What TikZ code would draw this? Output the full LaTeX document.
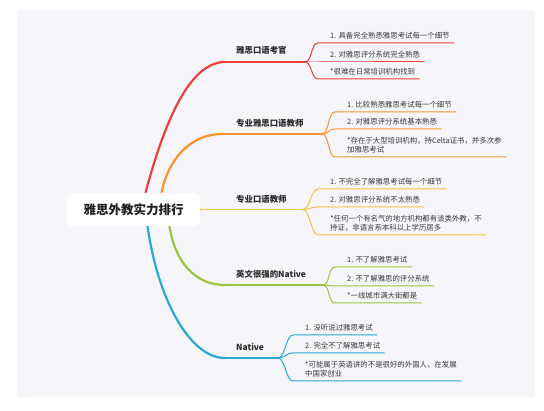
\documentclass[tikz,border=0pt]{standalone}
\usepackage{fontspec}
\setmainfont{Noto Sans CJK SC}
\definecolor{bgc}{HTML}{F5F5FA}
\definecolor{cred}{HTML}{E9423B}
\definecolor{corange}{HTML}{F5942E}
\definecolor{cyellow}{HTML}{F7C543}
\definecolor{cgreen}{HTML}{9CC43E}
\definecolor{cblue}{HTML}{27A8D6}
\definecolor{txt}{HTML}{3A3A3A}
\definecolor{lbl}{HTML}{2A2A2A}
\pgfdeclarelayer{back}
\pgfdeclarelayer{branches}
\pgfsetlayers{back,branches,main}
\newcommand\mmtwig[3]{%
  \draw[twig,#3] (#1) .. controls +(7,0) and ([xshift=-15pt]#2.south west) .. ([xshift=-8pt]#2.south west) -- (#2.south east);}
\begin{document}
\begin{tikzpicture}[x=1pt,y=-1pt,
  leaf/.style={anchor=south west, inner xsep=4pt, inner ysep=3.3pt, font=\fontsize{7.4}{9.5}\selectfont, text=txt, align=left},
  blabel/.style={anchor=west, inner sep=0pt, font=\fontsize{8.4}{10}\selectfont\bfseries, text=lbl},
  rootbox/.style={fill=white, rounded corners=5pt, minimum width=133pt, minimum height=33pt, inner sep=0pt, font=\fontsize{12.5}{14}\selectfont\bfseries, text=black!88},
  trunk/.style={line width=2.2pt, line cap=round},
  limb/.style={line width=1.5pt, line cap=round},
  twig/.style={line width=1pt, line cap=round},
]
\useasboundingbox (0,0) rectangle (544,411);
\begin{pgfonlayer}{back}
\fill[white] (0,0) rectangle (544,411);
\fill[bgc] (17,10) rectangle (535,397);
\end{pgfonlayer}
\node[rootbox] (root) at (133.5,209.5) {雅思外教实力排行};
% branch 1
\coordinate (h1) at (225,62);
\coordinate (s1) at (305,62);
\node[blabel] (b1) at (236,50) {雅思口语考官};
\node[leaf] (l11) at (326,43) {1. 具备完全熟悉雅思考试每一个细节};
\node[leaf] (l12) at (326,62) {2. 对雅思评分系统完全熟悉};
\node[leaf] (l13) at (326,79) {*很难在日常培训机构找到};
% branch 2
\coordinate (h2) at (222,134);
\coordinate (s2) at (322,134);
\node[blabel] (b2) at (236,123) {专业雅思口语教师};
\node[leaf] (l21) at (343,112) {1. 比较熟悉雅思考试每一个细节};
\node[leaf] (l22) at (343,129) {2. 对雅思评分系统基本熟悉};
\node[leaf] (l23) at (343,157) {*存在于大型培训机构，持Celta证书，并多次参\\加雅思考试};
% branch 3
\coordinate (s3) at (303,209.5);
\node[blabel] (b3) at (236,199.5) {专业口语教师};
\node[leaf] (l31) at (326,189) {1. 不完全了解雅思考试每一个细节};
\node[leaf] (l32) at (326,207) {2. 对雅思评分系统不太熟悉};
\node[leaf] (l33) at (326,235) {*任何一个有名气的地方机构都有该类外教，不\\持证，非语言系本科以上学历居多};
% branch 4
\coordinate (h4) at (225,285);
\coordinate (s4) at (323,285);
\node[blabel] (b4) at (236,274) {英文很强的Native};
\node[leaf] (l41) at (343,267) {1. 不了解雅思考试};
\node[leaf] (l42) at (343,286) {2. 不了解雅思的评分系统};
\node[leaf] (l43) at (343,303) {*一线城市满大街都是};
% branch 5
\coordinate (h5) at (225,358);
\coordinate (s5) at (278,358);
\node[blabel] (b5) at (236,347) {Native};
\node[leaf] (l51) at (301,335) {1. 没听说过雅思考试};
\node[leaf] (l52) at (301,353) {2. 完全不了解雅思考试};
\node[leaf] (l53) at (301,381) {*可能属于英语讲的不是很好的外国人，在发展\\中国家创业};
\begin{pgfonlayer}{branches}
\draw[trunk,cred] ([xshift=12pt]root.north) .. controls (165,120) and (190,62) .. (h1);
\draw[limb,cred] (h1) -- (s1);
\mmtwig{s1}{l11}{cred}\mmtwig{s1}{l12}{cred}\mmtwig{s1}{l13}{cred}
\draw[trunk,corange] ([xshift=28pt]root.north) .. controls (168,160) and (190,134) .. (h2);
\draw[limb,corange] (h2) -- (s2);
\mmtwig{s2}{l21}{corange}\mmtwig{s2}{l22}{corange}\mmtwig{s2}{l23}{corange}
\draw[trunk,cyellow] (root.center) -- (root.east);
\draw[limb,cyellow] (root.east) -- (s3);
\mmtwig{s3}{l31}{cyellow}\mmtwig{s3}{l32}{cyellow}\mmtwig{s3}{l33}{cyellow}
\draw[trunk,cgreen] ([xshift=36pt]root.south) .. controls (175,262) and (195,285) .. (h4);
\draw[limb,cgreen] (h4) -- (s4);
\mmtwig{s4}{l41}{cgreen}\mmtwig{s4}{l42}{cgreen}\mmtwig{s4}{l43}{cgreen}
\draw[trunk,cblue] ([xshift=14pt]root.south) .. controls (158,300) and (190,358) .. (h5);
\draw[limb,cblue] (h5) -- (s5);
\mmtwig{s5}{l51}{cblue}\mmtwig{s5}{l52}{cblue}\mmtwig{s5}{l53}{cblue}
\end{pgfonlayer}
\end{tikzpicture}
\end{document}
